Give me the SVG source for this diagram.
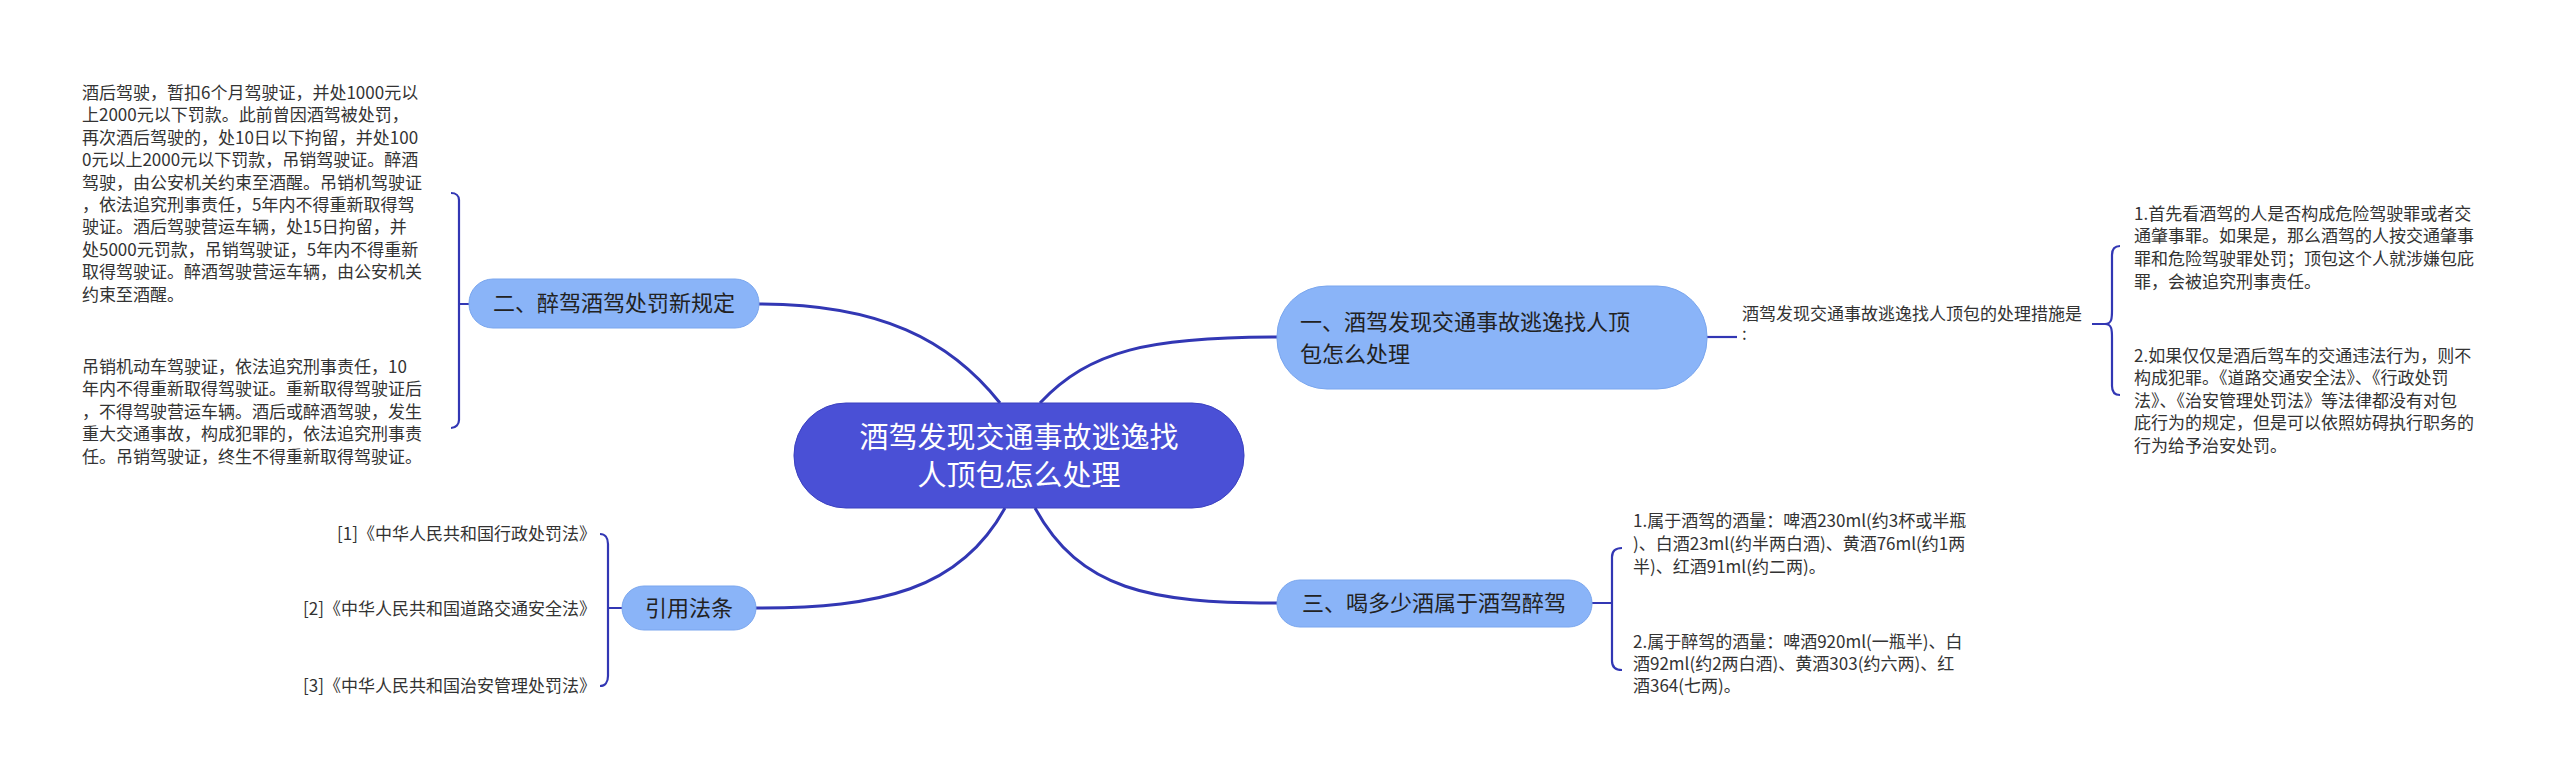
<svg xmlns="http://www.w3.org/2000/svg" width="2560" height="778" viewBox="0 0 2560 778">
<style>
.t{font-family:"Noto Sans CJK SC","Noto Sans",sans-serif;fill:#333;font-size:17px}
.n{font-family:"Noto Sans CJK SC","Noto Sans",sans-serif;fill:#222;font-size:22px}
.c{fill:none;stroke:#3237b4;stroke-width:3}
.b{fill:none;stroke:#3237b4;stroke-width:2.2}
.sub{fill:#8ab4f8;stroke:#7aa6ee;stroke-width:1}
</style>
<rect width="2560" height="778" fill="#fff"/>
<g id="connectors">
<path class="c" d="M1040,403 C1090,350 1150,337 1277,337"/>
<path class="c" d="M1000,403 C950,340 880,304 759,304"/>
<path class="c" d="M1005,508 C960,590 880,608 756,608"/>
<path class="c" d="M1035,508 C1080,590 1150,603 1277,603"/>
<path class="b" d="M1707,337 H1737"/>
<path class="b" d="M2092,324 H2105 M2105,324 C2112,324 2112,318 2112,310 V255 C2112,249 2115,246 2120,246 M2105,324 C2112,324 2112,330 2112,338 V386 C2112,392 2115,395 2120,395"/>
<path class="b" d="M469,304 H459 M459,304 V200 C459,196 456,193 451,193 M459,304 V420 C459,424 456,428 451,428"/>
<path class="b" d="M622,608 H608 M608,608 V544 C608,538 605,534 600,534 M608,608 V676 C608,682 605,686 600,686"/>
<path class="b" d="M1592,603 H1612 M1612,603 V557 C1612,551 1616,548 1622,548 M1612,603 V661 C1612,667 1616,670 1622,670"/>
</g>
<g id="center">
<rect x="794" y="403" width="450" height="105" rx="52" fill="#4a50d6" stroke="#3a40c0"/>
<text x="1019" y="448" text-anchor="middle" font-family="Noto Sans CJK SC,sans-serif" font-size="29" fill="#fff">酒驾发现交通事故逃逸找</text>
<text x="1019" y="486" text-anchor="middle" font-family="Noto Sans CJK SC,sans-serif" font-size="29" fill="#fff">人顶包怎么处理</text>
</g>
<g id="node1">
<rect class="sub" x="1277" y="286" width="430" height="103" rx="50"/>
<text class="n" x="1300" y="330">一、酒驾发现交通事故逃逸找人顶</text>
<text class="n" x="1300" y="362">包怎么处理</text>
</g>
<g id="node1-label">
<text class="t" x="1742" y="320">酒驾发现交通事故逃逸找人顶包的处理措施是</text>
<text class="t" x="1742" y="340">:</text>
</g>
<g id="node1-a">
<text class="t" x="2134" y="220">1.首先看酒驾的人是否构成危险驾驶罪或者交</text>
<text class="t" x="2134" y="242">通肇事罪。如果是，那么酒驾的人按交通肇事</text>
<text class="t" x="2134" y="265">罪和危险驾驶罪处罚；顶包这个人就涉嫌包庇</text>
<text class="t" x="2134" y="288">罪，会被追究刑事责任。</text>
</g>
<g id="node1-b">
<text class="t" x="2134" y="362">2.如果仅仅是酒后驾车的交通违法行为，则不</text>
<text class="t" x="2134" y="384">构成犯罪。《道路交通安全法》、《行政处罚</text>
<text class="t" x="2134" y="407">法》、《治安管理处罚法》等法律都没有对包</text>
<text class="t" x="2134" y="429">庇行为的规定，但是可以依照妨碍执行职务的</text>
<text class="t" x="2134" y="452">行为给予治安处罚。</text>
</g>
<g id="node2">
<rect class="sub" x="469" y="279" width="290" height="49" rx="24"/>
<text class="n" x="614" y="311" text-anchor="middle">二、醉驾酒驾处罚新规定</text>
</g>
<g id="node2-a">
<text class="t" x="82" y="99">酒后驾驶，暂扣6个月驾驶证，并处1000元以</text>
<text class="t" x="82" y="121">上2000元以下罚款。此前曾因酒驾被处罚，</text>
<text class="t" x="82" y="144">再次酒后驾驶的，处10日以下拘留，并处100</text>
<text class="t" x="82" y="166">0元以上2000元以下罚款，吊销驾驶证。醉酒</text>
<text class="t" x="82" y="189">驾驶，由公安机关约束至酒醒。吊销机驾驶证</text>
<text class="t" x="82" y="211">，依法追究刑事责任，5年内不得重新取得驾</text>
<text class="t" x="82" y="233">驶证。酒后驾驶营运车辆，处15日拘留，并</text>
<text class="t" x="82" y="256">处5000元罚款，吊销驾驶证，5年内不得重新</text>
<text class="t" x="82" y="278">取得驾驶证。醉酒驾驶营运车辆，由公安机关</text>
<text class="t" x="82" y="301">约束至酒醒。</text>
</g>
<g id="node2-b">
<text class="t" x="82" y="373">吊销机动车驾驶证，依法追究刑事责任，10</text>
<text class="t" x="82" y="395">年内不得重新取得驾驶证。重新取得驾驶证后</text>
<text class="t" x="82" y="418">，不得驾驶营运车辆。酒后或醉酒驾驶，发生</text>
<text class="t" x="82" y="440">重大交通事故，构成犯罪的，依法追究刑事责</text>
<text class="t" x="82" y="463">任。吊销驾驶证，终生不得重新取得驾驶证。</text>
</g>
<g id="node4">
<rect class="sub" x="622" y="586" width="134" height="44" rx="22"/>
<text class="n" x="689" y="616" text-anchor="middle">引用法条</text>
</g>
<g id="node4-items">
<text class="t" x="596" y="540" text-anchor="end">[1]《中华人民共和国行政处罚法》</text>
<text class="t" x="596" y="615" text-anchor="end">[2]《中华人民共和国道路交通安全法》</text>
<text class="t" x="596" y="692" text-anchor="end">[3]《中华人民共和国治安管理处罚法》</text>
</g>
<g id="node3">
<rect class="sub" x="1277" y="580" width="315" height="47" rx="23"/>
<text class="n" x="1434" y="611" text-anchor="middle">三、喝多少酒属于酒驾醉驾</text>
</g>
<g id="node3-a">
<text class="t" x="1633" y="527">1.属于酒驾的酒量：啤酒230ml(约3杯或半瓶</text>
<text class="t" x="1633" y="550">)、白酒23ml(约半两白酒)、黄酒76ml(约1两</text>
<text class="t" x="1633" y="573">半)、红酒91ml(约二两)。</text>
</g>
<g id="node3-b">
<text class="t" x="1633" y="648">2.属于醉驾的酒量：啤酒920ml(一瓶半)、白</text>
<text class="t" x="1633" y="670">酒92ml(约2两白酒)、黄酒303(约六两)、红</text>
<text class="t" x="1633" y="692">酒364(七两)。</text>
</g>
</svg>
